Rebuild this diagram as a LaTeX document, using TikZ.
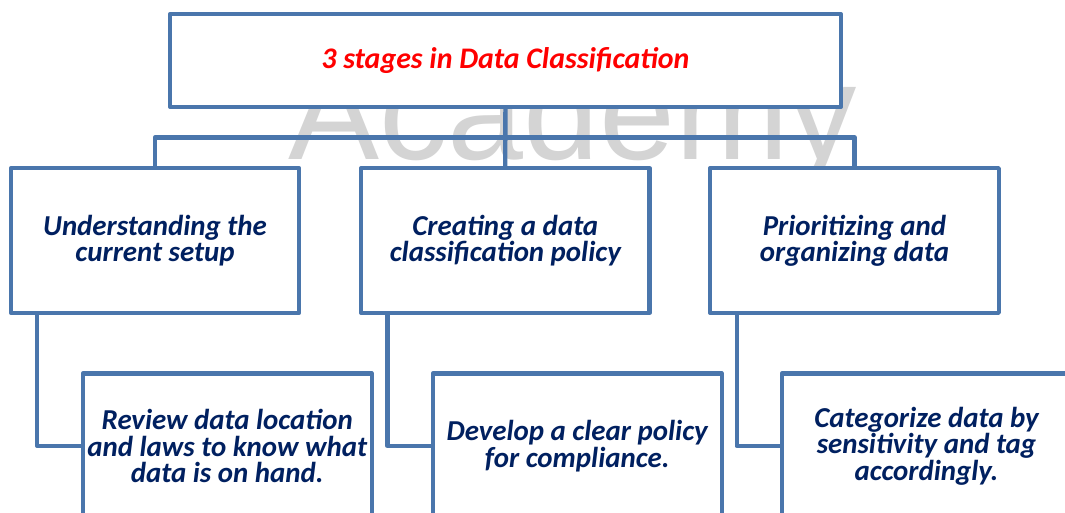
\documentclass[tikz,border=0pt]{standalone}
\usepackage{fontspec}
\setmainfont{Carlito}
\newfontfamily\wmfont{Liberation Sans}
\definecolor{boxblue}{RGB}{74,118,172}
\definecolor{navytext}{RGB}{0,32,96}
\definecolor{wmgray}{RGB}{212,212,212}
\newcommand\bodyfnt{\fontsize{29}{26.5}\selectfont\bfseries\itshape}
\newcommand\titlefnt{\fontsize{30}{30}\selectfont\bfseries\itshape}
\begin{document}
\begin{tikzpicture}[x=1bp,y=-1bp,
  box/.style={draw=boxblue, line width=4.3bp, fill=white, inner sep=0pt,
    align=center, text=navytext, font=\bodyfnt, line join=round},
  lvlbox/.style={box, minimum width=288.5bp, minimum height=144.5bp},
  subbox/.style={box, minimum width=289bp, minimum height=145bp},
  link/.style={draw=boxblue, line width=4.3bp, line join=round}
]
\useasboundingbox (0,0) rectangle (1065,513);
\clip (0,0) rectangle (1065,513);
\fill[white] (0,0) rectangle (1065,513);
% watermark
\node[font=\wmfont\fontsize{137}{137}\selectfont, text=wmgray, anchor=base west, inner sep=0pt] (wm) at (288,160) {Academy};
% top box
\node[box, minimum width=670.5bp, minimum height=93bp, text=red, font=\titlefnt] (top) at (505.4,60.5) {\raisebox{3bp}{3 stages in Data Classification}};
% level boxes
\node[lvlbox] (b1) at (155,240.5) {Understanding the\\current setup};
\node[lvlbox] (b2) at (505.3,240.5) {Creating a data\\classification policy};
\node[lvlbox] (b3) at (854.5,240.5) {Prioritizing and\\organizing data};
% sub boxes
\node[subbox] (s1) at (227.2,446) {Review data location\\and laws to know what\\data is on hand.};
\node[subbox] (s2) at (577.2,446) {Develop a clear policy\\for compliance.};
\node[subbox] (s3) at (926.5,446) {Categorize data by\\sensitivity and tag\\accordingly.};
% connectors
\coordinate (bar) at (505.3,137.5);
\draw[link] (top.south) -- (b2.north);
\draw[link] (b1.north) |- (bar) -| (b3.north);
\draw[link] ([xshift=28.6bp]b1.south west) |- (s1.west);
\draw[link] ([xshift=28.6bp]b2.south west) |- (s2.west);
\draw[link] ([xshift=28.6bp]b3.south west) |- (s3.west);
\end{tikzpicture}
\end{document}
